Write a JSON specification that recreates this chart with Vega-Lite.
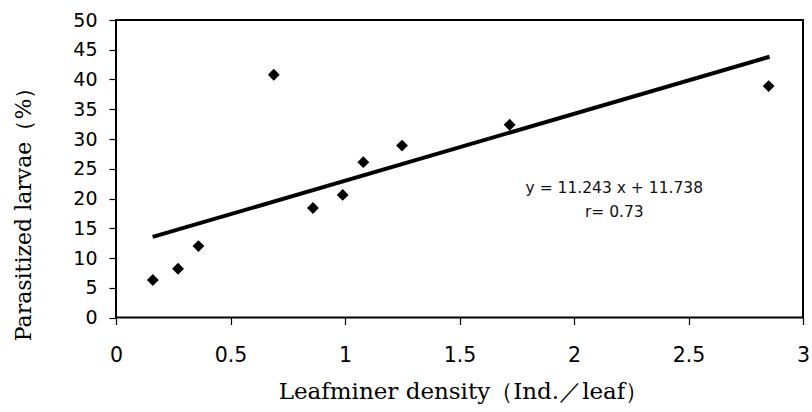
{
  "$schema": "https://vega.github.io/schema/vega-lite/v6.json",
  "width": 687,
  "height": 297.5,
  "autosize": {"type": "none"},
  "padding": {"left": 116, "top": 20, "right": 9, "bottom": 94.5},
  "background": "white",
  "config": {
    "view": {"stroke": "black", "strokeWidth": 2},
    "axis": {
      "grid": false,
      "domain": false,
      "tickColor": "black",
      "tickWidth": 1.2,
      "tickSize": 7,
      "labelColor": "black",
      "titleColor": "black",
      "labelFont": "DejaVu Sans",
      "titleFont": "DejaVu Serif",
      "titleFontWeight": "normal",
      "labelFlush": false,
      "labelOverlap": false
    },
    "axisX": {
      "values": [0, 0.5, 1, 1.5, 2, 2.5, 3],
      "format": "~g",
      "labelFontSize": 20.5,
      "labelPadding": 21,
      "titleFontSize": 23,
      "titleBaseline": "alphabetic",
      "titleAnchor": "start",
      "titleAlign": "center",
      "titleX": 347,
      "titleY": 80.5
    },
    "axisY": {
      "values": [0, 5, 10, 15, 20, 25, 30, 35, 40, 45, 50],
      "format": "d",
      "labelFontSize": 19,
      "labelPadding": 12,
      "titleFontSize": 22,
      "titleAngle": 270,
      "titleBaseline": "alphabetic",
      "titleAlign": "center",
      "titleAnchor": "start",
      "titleX": -86,
      "titleY": 188.5
    }
  },
  "datasets": {
    "points": [
      {"density": 0.161, "parasitized": 6.3},
      {"density": 0.271, "parasitized": 8.2},
      {"density": 0.36, "parasitized": 12.0},
      {"density": 0.689, "parasitized": 40.8},
      {"density": 0.86, "parasitized": 18.4},
      {"density": 0.99, "parasitized": 20.6},
      {"density": 1.08, "parasitized": 26.1},
      {"density": 1.249, "parasitized": 28.9},
      {"density": 1.719, "parasitized": 32.4},
      {"density": 2.85, "parasitized": 38.9}
    ],
    "fit": [
      {"density": 0.16, "parasitized": 13.54},
      {"density": 2.854, "parasitized": 43.83}
    ]
  },
  "layer": [
    {
      "data": {"name": "fit"},
      "mark": {"type": "line", "color": "black", "strokeWidth": 4, "strokeCap": "butt"},
      "encoding": {
        "x": {
          "field": "density",
          "type": "quantitative",
          "scale": {"domain": [0, 3], "nice": false, "zero": false},
          "axis": {"title": "Leafminer density（Ind.／leaf）", "values": [0, 0.5, 1, 1.5, 2, 2.5, 3]}
        },
        "y": {
          "field": "parasitized",
          "type": "quantitative",
          "scale": {"domain": [0, 50], "nice": false},
          "axis": {"title": "Parasitized larvae（%）", "values": [0, 5, 10, 15, 20, 25, 30, 35, 40, 45, 50]}
        }
      }
    },
    {
      "data": {"name": "points"},
      "mark": {"type": "point", "shape": "diamond", "filled": true, "color": "black", "opacity": 1, "size": 140},
      "encoding": {
        "x": {
          "field": "density",
          "type": "quantitative",
          "axis": {"title": "Leafminer density（Ind.／leaf）", "values": [0, 0.5, 1, 1.5, 2, 2.5, 3]}
        },
        "y": {
          "field": "parasitized",
          "type": "quantitative",
          "axis": {"title": "Parasitized larvae（%）", "values": [0, 5, 10, 15, 20, 25, 30, 35, 40, 45, 50]}
        }
      }
    },
    {
      "data": {"values": [{}]},
      "mark": {
        "type": "text",
        "text": ["y = 11.243 x + 11.738", "r= 0.73"],
        "font": "DejaVu Sans",
        "fontSize": 15.5,
        "color": "#111111",
        "align": "center",
        "baseline": "alphabetic",
        "lineHeight": 23.4
      },
      "encoding": {
        "x": {
          "datum": 2.176,
          "type": "quantitative",
          "axis": {"title": "Leafminer density（Ind.／leaf）", "values": [0, 0.5, 1, 1.5, 2, 2.5, 3]}
        },
        "y": {
          "datum": 20.87,
          "type": "quantitative",
          "axis": {"title": "Parasitized larvae（%）", "values": [0, 5, 10, 15, 20, 25, 30, 35, 40, 45, 50]}
        }
      }
    }
  ]
}
